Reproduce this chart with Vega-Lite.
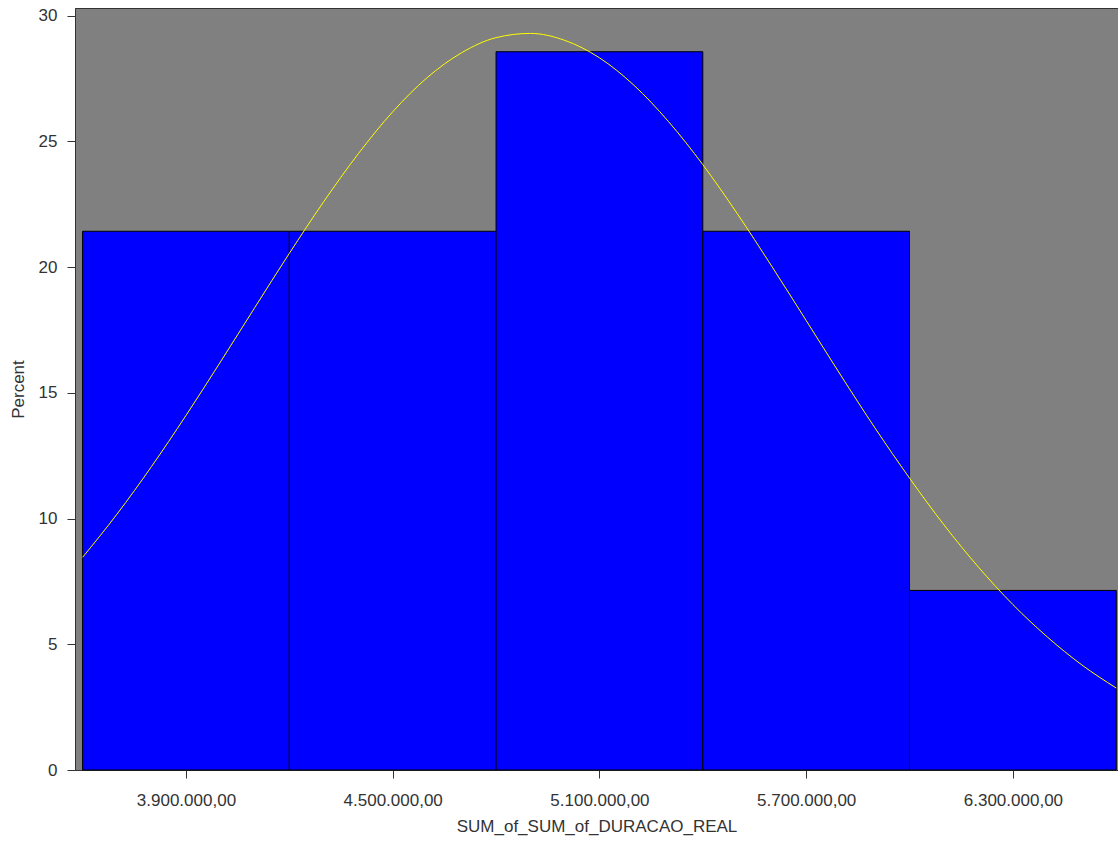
{
  "$schema": "https://vega.github.io/schema/vega-lite/v6.json",
  "width": 1043,
  "height": 762,
  "autosize": {"type": "none"},
  "padding": {"left": 75, "top": 8, "right": 0, "bottom": 71},
  "background": "#ffffff",
  "config": {
    "locale": {
      "number": {"decimal": ",", "thousands": ".", "grouping": [3], "currency": ["", ""]}
    },
    "view": {"fill": "#808080", "stroke": "#333333", "strokeWidth": 1},
    "axis": {
      "labelFont": "Liberation Sans",
      "titleFont": "Liberation Sans",
      "labelFontSize": 17,
      "titleFontSize": 17,
      "labelColor": "#333333",
      "titleColor": "#333333",
      "titleFontWeight": "normal",
      "domainColor": "#333333",
      "tickColor": "#333333",
      "tickSize": 8,
      "grid": false
    }
  },
  "datasets": {
    "bins": [
      {"bin_start": 3600000, "bin_end": 4200000, "percent": 21.4286},
      {"bin_start": 4200000, "bin_end": 4800000, "percent": 21.4286},
      {"bin_start": 4800000, "bin_end": 5400000, "percent": 28.5714},
      {"bin_start": 5400000, "bin_end": 6000000, "percent": 21.4286},
      {"bin_start": 6000000, "bin_end": 6600000, "percent": 7.1429}
    ],
    "normal": [
      {"x": 3600000, "pct": 8.46},
      {"x": 3700000, "pct": 10.18},
      {"x": 3800000, "pct": 12.07},
      {"x": 3900000, "pct": 14.10},
      {"x": 4000000, "pct": 16.23},
      {"x": 4100000, "pct": 18.40},
      {"x": 4200000, "pct": 20.55},
      {"x": 4300000, "pct": 22.61},
      {"x": 4400000, "pct": 24.51},
      {"x": 4500000, "pct": 26.18},
      {"x": 4600000, "pct": 27.54},
      {"x": 4700000, "pct": 28.53},
      {"x": 4800000, "pct": 29.13},
      {"x": 4900000, "pct": 29.30},
      {"x": 5000000, "pct": 29.02},
      {"x": 5100000, "pct": 28.33},
      {"x": 5200000, "pct": 27.24},
      {"x": 5300000, "pct": 25.80},
      {"x": 5400000, "pct": 24.08},
      {"x": 5500000, "pct": 22.13},
      {"x": 5600000, "pct": 20.04},
      {"x": 5700000, "pct": 17.88},
      {"x": 5800000, "pct": 15.71},
      {"x": 5900000, "pct": 13.60},
      {"x": 6000000, "pct": 11.61},
      {"x": 6100000, "pct": 9.75},
      {"x": 6200000, "pct": 8.07},
      {"x": 6300000, "pct": 6.58},
      {"x": 6400000, "pct": 5.29},
      {"x": 6500000, "pct": 4.18},
      {"x": 6600000, "pct": 3.26}
    ]
  },
  "layer": [
    {
      "data": {"name": "bins"},
      "mark": {"type": "rect", "fill": "#0000ff", "stroke": "#000000", "strokeWidth": 1},
      "encoding": {
        "x": {
          "field": "bin_start",
          "type": "quantitative",
          "scale": {"domain": [3578000, 6605000], "nice": false, "zero": false},
          "axis": {
            "title": "SUM_of_SUM_of_DURACAO_REAL",
            "values": [3900000, 4500000, 5100000, 5700000, 6300000],
            "format": ",.2f",
            "labelPadding": 14,
            "titlePadding": 10
          }
        },
        "x2": {"field": "bin_end"},
        "y": {
          "field": "percent",
          "type": "quantitative",
          "scale": {"domain": [0, 30.31], "nice": false},
          "axis": {
            "title": "Percent",
            "values": [0, 5, 10, 15, 20, 25, 30],
            "labelPadding": 10,
            "titlePadding": 11
          }
        },
        "y2": {"datum": 0}
      }
    },
    {
      "data": {"name": "normal"},
      "mark": {"type": "line", "color": "#ffff00", "strokeWidth": 1, "interpolate": "monotone"},
      "encoding": {
        "x": {"field": "x", "type": "quantitative"},
        "y": {"field": "pct", "type": "quantitative"}
      }
    }
  ]
}
